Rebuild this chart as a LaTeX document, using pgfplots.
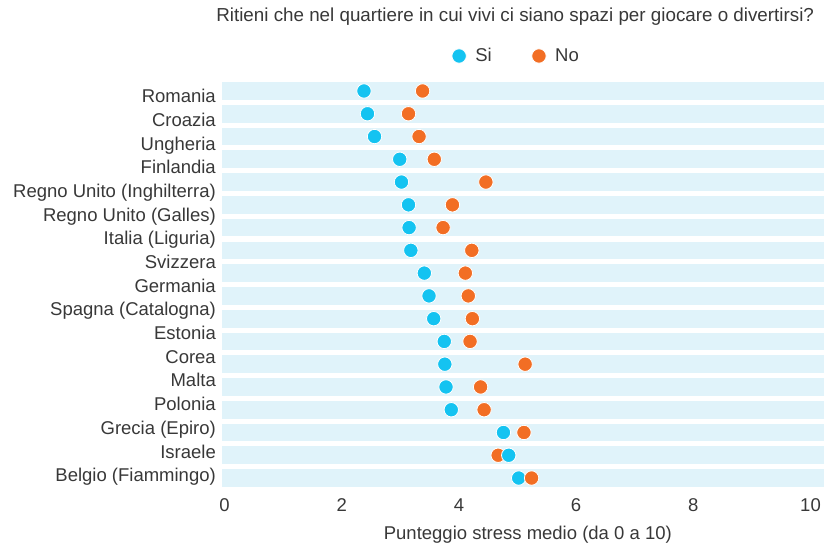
\documentclass[border=0pt]{standalone}
\usepackage{fontspec}
\setmainfont{Liberation Sans}
\usepackage{pgfplots}
\pgfplotsset{compat=1.18}
\definecolor{band}{HTML}{E0F3FA}
\definecolor{si}{HTML}{14C3F1}
\definecolor{no}{HTML}{F26E24}
\definecolor{txt}{HTML}{383838}
\newcommand{\fs}{\fontsize{18.5}{22}\selectfont}
\begin{document}
\begin{tikzpicture}
\useasboundingbox (-222pt,-57.1pt) rectangle (602pt,486.9pt);
\begin{axis}[
 at={(0,0)}, anchor=south west,
 scale only axis, width=602pt, height=404.8pt,
 xmin=-0.0427, xmax=10.230,
 ymin=-17.39, ymax=0.39,
 clip=false,
 axis line style={draw=none}, tick style={draw=none}, major tick length=0pt,
 xtick={0,2,4,6,8,10},
 ytick={-0.22,-1.261,-2.301,-3.342,-4.382,-5.423,-6.464,-7.504,-8.545,-9.585,-10.626,-11.667,-12.707,-13.748,-14.788,-15.829,-16.87},
 yticklabels={Romania,Croazia,Ungheria,Finlandia,Regno Unito (Inghilterra),Regno Unito (Galles),Italia (Liguria),Svizzera,Germania,Spagna (Catalogna),Estonia,Corea,Malta,Polonia,Grecia (Epiro),Israele,Belgio (Fiammingo)},
 /pgf/number format/assume math mode=true,
 xticklabel style={font=\fs, text=txt, anchor=north, inner sep=0pt, text height=13.3pt, text depth=0pt, yshift=-11.5pt},
 yticklabel style={font=\fs, text=txt, anchor=east, inner sep=0pt, text height=13.3pt, text depth=0pt, xshift=-6pt},
 xlabel={Punteggio stress medio (da 0 a 10)},
 xlabel style={font=\fs, text=txt, at={(axis description cs:0.508,0)}, anchor=center, yshift=-48pt},
 title={Ritieni che nel quartiere in cui vivi ci siano spazi per giocare o divertirsi?},
 title style={font=\fontsize{18.8}{22}\selectfont, text=txt, at={(axis description cs:0.487,1.146)}, anchor=center},
 legend style={at={(axis description cs:0.489,1.0645)}, anchor=center, draw=none, fill=none,
   font=\fs, text=txt, inner sep=0pt, outer sep=0pt,
   /tikz/every odd column/.append style={column sep=7pt},
   /tikz/every even column/.append style={column sep=38pt}},
 legend columns=2,
 legend cell align=left,
 legend image code/.code={\draw[#1] plot coordinates {(0pt,0pt)};},
]
\pgfplotsinvokeforeach{0,...,17}{
 \addplot[forget plot, band, line width=17.7pt] coordinates {(-0.0427,-#1) (10.230,-#1)};
}
\addplot[only marks, mark=*, mark size=7.2pt, mark options={fill=si, draw=white, line width=0.8pt}] coordinates {
(2.38,0) (2.44,-1) (2.56,-2) (2.99,-3) (3.02,-4) (3.14,-5) (3.15,-6) (3.18,-7) (3.41,-8) (3.49,-9) (3.57,-10) (3.75,-11) (3.76,-12) (3.78,-13) (3.87,-14) (4.76,-15) (4.85,-16) (5.02,-17)
};
\addlegendentry{Si}
\addplot[only marks, mark=*, mark size=7.2pt, mark options={fill=no, draw=white, line width=0.8pt}] coordinates {
(3.38,0) (3.14,-1) (3.32,-2) (3.58,-3) (4.46,-4) (3.89,-5) (3.73,-6) (4.22,-7) (4.11,-8) (4.16,-9) (4.23,-10) (4.19,-11) (5.13,-12) (4.37,-13) (4.43,-14) (5.11,-15) (4.67,-16) (5.24,-17)
};
\addlegendentry{No}
\addplot[forget plot, only marks, mark=*, mark size=7.2pt, mark options={fill=si, draw=white, line width=0.8pt}] coordinates {(4.85,-16)};
\end{axis}
\end{tikzpicture}
\end{document}
